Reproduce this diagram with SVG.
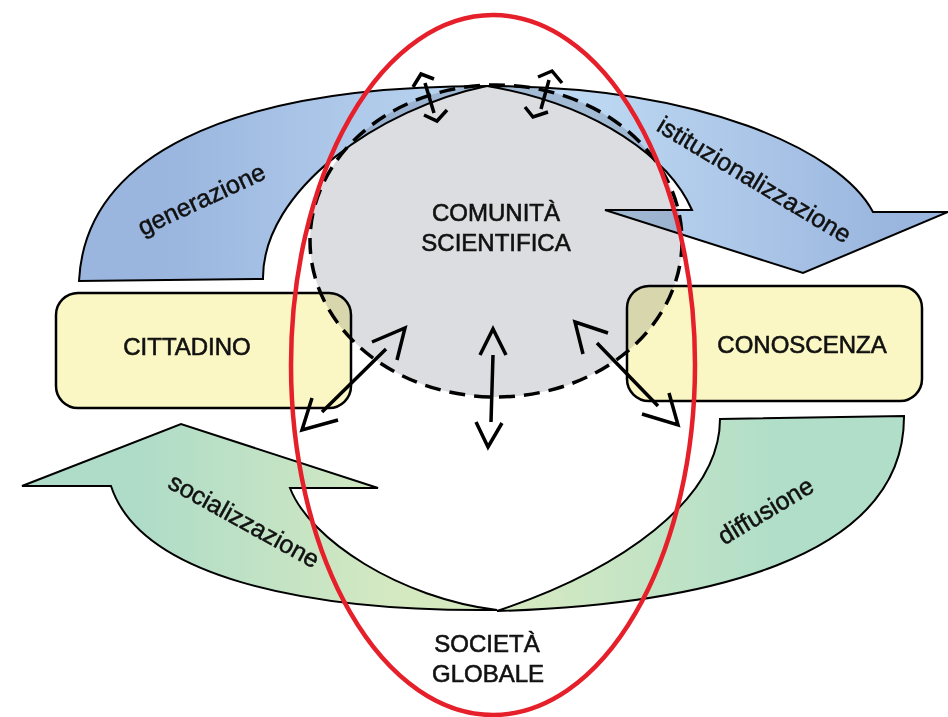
<svg xmlns="http://www.w3.org/2000/svg" width="948" height="717" viewBox="0 0 948 717">
<defs>
<linearGradient id="gBlueL" gradientUnits="userSpaceOnUse" x1="79" y1="0" x2="487" y2="0">
<stop offset="0.2" stop-color="#9ab5de"/><stop offset="1" stop-color="#bcd7f1"/>
</linearGradient>
<linearGradient id="gBlueR" gradientUnits="userSpaceOnUse" x1="600" y1="0" x2="900" y2="0">
<stop offset="0" stop-color="#bcd7f1"/><stop offset="1" stop-color="#9ab5de"/>
</linearGradient>
<linearGradient id="gGreenL" gradientUnits="userSpaceOnUse" x1="140" y1="0" x2="400" y2="0">
<stop offset="0" stop-color="#afdcc8"/><stop offset="1" stop-color="#d5e9c1"/>
</linearGradient>
<linearGradient id="gGreenR" gradientUnits="userSpaceOnUse" x1="520" y1="0" x2="780" y2="0">
<stop offset="0" stop-color="#d5e9c1"/><stop offset="1" stop-color="#b0dec9"/>
</linearGradient>
</defs>
<style>
.flow{stroke:#000;stroke-width:2;stroke-linejoin:miter}
.box{fill:#faf7c4;stroke:#000;stroke-width:2.5}
.cap{font-family:"Liberation Sans",Arial,sans-serif;font-size:24px;fill:#111;stroke:#111;stroke-width:0.6;text-anchor:middle}
.lab{font-family:"Liberation Sans",Arial,sans-serif;font-size:25px;fill:#111;stroke:#111;stroke-width:0.5;text-anchor:middle}
.arr{fill:none;stroke:#000;stroke-width:3.5;stroke-linecap:butt;stroke-linejoin:miter}
</style>
<rect width="948" height="717" fill="#fff"/>
<g id="connectors">
<g id="generazione">
<path class="flow" fill="url(#gBlueL)" d="M79,281 C85,160 220,86 487,86 C380,108 262,190 263,279 Z"/>
<text class="lab" transform="translate(205,207) rotate(-25)">generazione</text>
</g>
<g id="istituzionalizzazione">
<path class="flow" fill="url(#gBlueR)" d="M487,86 C700,86 840,150 873,212 L948,212 L803,273 L605,210 L692,210 C670,160 600,105 487,86 Z"/>
<text class="lab" transform="translate(750,187) rotate(31)">istituzionalizzazione</text>
</g>
<g id="socializzazione">
<path class="flow" fill="url(#gGreenL)" d="M22,486 L181,424 L378,488 L290,488 C310,540 400,598 497,610 C300,612 140,575 111,486 Z"/>
<text class="lab" transform="translate(240,528) rotate(29)">socializzazione</text>
</g>
<g id="diffusione">
<path class="flow" fill="url(#gGreenR)" d="M720,419 L904,416 C905,560 700,605 497,611 C620,570 720,500 720,419 Z"/>
<text class="lab" transform="translate(770,518) rotate(-31)">diffusione</text>
</g>
</g>
<g id="cittadino">
<rect class="box" x="56" y="293" width="295" height="115" rx="22"/>
<text class="cap" x="187" y="355">CITTADINO</text>
</g>
<g id="conoscenza">
<rect class="box" x="627" y="286" width="295" height="115" rx="22"/>
<text class="cap" x="802" y="353">CONOSCENZA</text>
</g>
<g id="comunita">
<ellipse cx="496" cy="241" rx="186" ry="156" fill="#dcdde0" style="mix-blend-mode:multiply"/>
<ellipse cx="496" cy="241" rx="186" ry="156" fill="none" stroke="#000" stroke-width="3.5" stroke-dasharray="16 9"/>
<text class="cap" x="496" y="221">COMUNITÀ</text>
<text class="cap" x="496" y="251">SCIENTIFICA</text>
</g>
<g id="societa">
<ellipse cx="493" cy="365" rx="202" ry="350" fill="none" stroke="#e5202a" stroke-width="4.5"/>
<text class="cap" x="487" y="652">SOCIETÀ</text>
<text class="cap" x="488" y="682">GLOBALE</text>
</g>
<g id="exchange-arrows">
<path class="arr" d="M372,342 L405,328 L397,360 M312,398 L302,430 L338,420 M322,412 L386,349"/>
<path class="arr" d="M608,333 L575,322 L583,354 M642,414 L678,425 L669,393 M597,343 L658,406"/>
<path class="arr" d="M480,355 L493,329 L506,355 M476,422 L488,447 L502,423 M493,355 L491,422"/>
<path class="arr" d="M413,87 L421,74 L434,79 M424,115 L437,121 L447,110 M425,83 L434,113"/>
<path class="arr" d="M538,77 L552,71 L562,83 M525,107 L533,117 L548,112 M549,80 L541,109"/>
</g>
</svg>
